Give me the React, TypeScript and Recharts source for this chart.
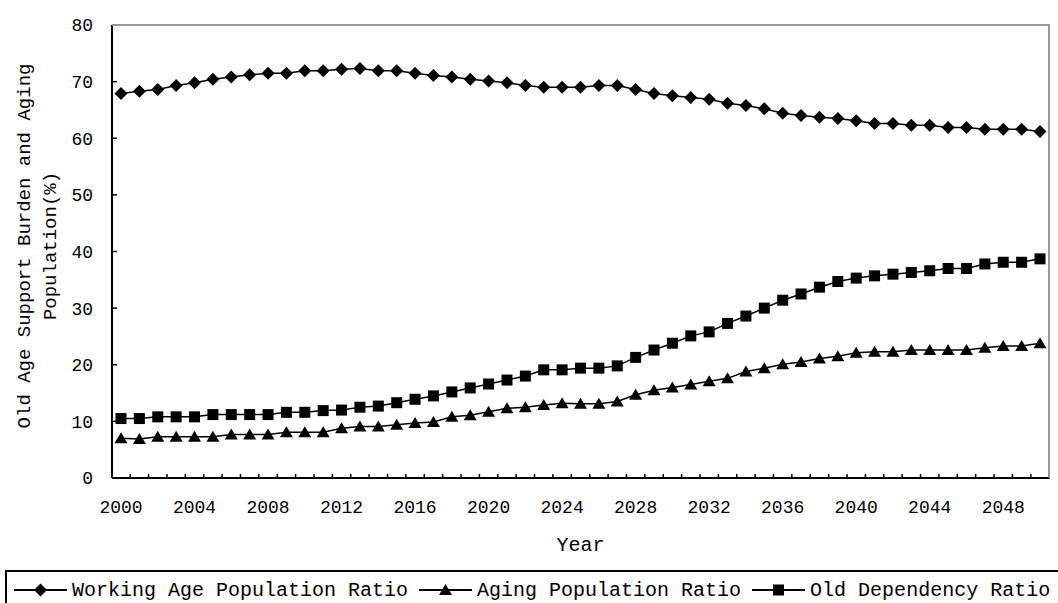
import { Legend, Line, LineChart, ReferenceLine, XAxis, YAxis } from "recharts";

const FONT = '"Liberation Mono", "DejaVu Sans Mono", monospace';

const YEARS = [
  "2000", "2001", "2002", "2003", "2004", "2005", "2006", "2007", "2008", "2009",
  "2010", "2011", "2012", "2013", "2014", "2015", "2016", "2017", "2018", "2019",
  "2020", "2021", "2022", "2023", "2024", "2025", "2026", "2027", "2028", "2029",
  "2030", "2031", "2032", "2033", "2034", "2035", "2036", "2037", "2038", "2039",
  "2040", "2041", "2042", "2043", "2044", "2045", "2046", "2047", "2048", "2049",
  "2050",
];

const WORKING = [
  67.9, 68.3, 68.6, 69.3, 69.8, 70.4, 70.8, 71.2, 71.5, 71.5,
  71.9, 71.9, 72.2, 72.3, 71.9, 71.9, 71.5, 71.1, 70.8, 70.4,
  70.1, 69.8, 69.3, 69.0, 69.0, 69.0, 69.3, 69.3, 68.6, 67.9,
  67.5, 67.2, 66.9, 66.2, 65.8, 65.2, 64.4, 64.0, 63.7, 63.5,
  63.1, 62.6, 62.6, 62.3, 62.3, 61.9, 61.9, 61.6, 61.6, 61.6,
  61.2,
];

const AGING = [
  7.0, 6.9, 7.3, 7.3, 7.3, 7.3, 7.7, 7.7, 7.7, 8.1,
  8.1, 8.1, 8.8, 9.1, 9.1, 9.4, 9.7, 9.9, 10.8, 11.1,
  11.7, 12.3, 12.5, 12.9, 13.2, 13.1, 13.1, 13.5, 14.7, 15.5,
  16.0, 16.5, 17.1, 17.6, 18.8, 19.4, 20.1, 20.5, 21.1, 21.5,
  22.1, 22.3, 22.3, 22.6, 22.6, 22.6, 22.6, 23.0, 23.3, 23.3,
  23.8,
];

const OLD_DEP = [
  10.5, 10.5, 10.8, 10.8, 10.8, 11.2, 11.2, 11.2, 11.2, 11.6,
  11.6, 11.9, 12.0, 12.5, 12.7, 13.3, 13.9, 14.5, 15.2, 15.9,
  16.6, 17.3, 18.0, 19.1, 19.1, 19.4, 19.4, 19.8, 21.3, 22.6,
  23.8, 25.1, 25.8, 27.3, 28.6, 30.0, 31.4, 32.5, 33.7, 34.7,
  35.3, 35.7, 36.0, 36.3, 36.6, 37.0, 37.0, 37.8, 38.1, 38.1,
  38.7,
];

const Y_TICKS = [0, 10, 20, 30, 40, 50, 60, 70, 80];

const SERIES = [
  { key: "working", name: "Working Age Population Ratio", shape: "diamond" },
  { key: "aging", name: "Aging Population Ratio", shape: "triangle" },
  { key: "oldDep", name: "Old Dependency Ratio", shape: "square" },
];

const data = YEARS.map((year, i) => ({
  year,
  working: WORKING[i],
  aging: AGING[i],
  oldDep: OLD_DEP[i],
}));

// plot box: x 112..1049, y 25..478
const PLOT_W = 937;
const STEP = PLOT_W / YEARS.length;

function Marker({ shape, cx, cy }: { shape: string; cx: number; cy: number }) {
  if (shape === "diamond") {
    return (
      <path
        d={`M${cx},${cy - 6.5}L${cx + 6.5},${cy}L${cx},${cy + 6.5}L${cx - 6.5},${cy}Z`}
        fill="#000"
      />
    );
  }
  if (shape === "triangle") {
    return (
      <path
        d={`M${cx},${cy - 6}L${cx + 6.5},${cy + 5}L${cx - 6.5},${cy + 5}Z`}
        fill="#000"
      />
    );
  }
  return <rect x={cx - 5.5} y={cy - 5.5} width={11} height={11} fill="#000" />;
}

// tick marks sit between categories, labels every 4 years
function YearTick(props: any) {
  const { x, y, payload, index } = props;
  const bx = x - STEP / 2;
  return (
    <g>
      <line x1={bx} x2={bx} y1={y} y2={y - 4} stroke="#000" strokeWidth={1.5} />
      {index % 4 === 0 && (
        <text
          x={x}
          y={y + 30}
          textAnchor="middle"
          dominantBaseline="central"
          fontFamily={FONT}
          fontSize={18}
          fill="#000"
        >
          {payload.value}
        </text>
      )}
    </g>
  );
}

function YLabel() {
  return (
    <g fontFamily={FONT} fontSize={19} fill="#000">
      <text
        x={25}
        y={246}
        textAnchor="middle"
        dominantBaseline="central"
        transform="rotate(-90 25 246)"
      >
        Old Age Support Burden and Aging
      </text>
      <text
        x={51}
        y={246}
        textAnchor="middle"
        dominantBaseline="central"
        transform="rotate(-90 51 246)"
      >
        Population(%)
      </text>
    </g>
  );
}

function XLabel(props: any) {
  const vb = props.viewBox || {};
  return (
    <text
      x={vb.x + vb.width / 2}
      y={545}
      textAnchor="middle"
      dominantBaseline="central"
      fontFamily={FONT}
      fontSize={20}
      fill="#000"
    >
      Year
    </text>
  );
}

function LegendBox() {
  return (
    <div
      style={{
        border: "2px solid #000",
        borderRight: "none",
        height: 40,
        boxSizing: "border-box",
        display: "flex",
        alignItems: "center",
        paddingLeft: 7,
        fontFamily: FONT,
        fontSize: 20,
        whiteSpace: "nowrap",
        color: "#000",
        background: "#fff",
      }}
    >
      {SERIES.map((s) => (
        <span
          key={s.key}
          style={{ display: "inline-flex", alignItems: "center", marginRight: 11 }}
        >
          <svg width={53} height={16}>
            <line x1={0} x2={53} y1={8} y2={8} stroke="#000" strokeWidth={2} />
            <Marker shape={s.shape} cx={26.5} cy={8} />
          </svg>
          <span style={{ marginLeft: 5 }}>{s.name}</span>
        </span>
      ))}
    </div>
  );
}

export default function App() {
  return (
    <div
      style={{
        position: "absolute",
        left: 0,
        top: 0,
        width: 1058,
        height: 603,
        overflow: "hidden",
        background: "#fff",
      }}
    >
      <LineChart
        width={1058}
        height={603}
        data={data}
        margin={{ top: 25, right: 9, left: 0, bottom: 0 }}
      >
        <XAxis
          dataKey="year"
          height={125}
          interval={0}
          padding={{ left: 9, right: 9 }}
          tickLine={false}
          tickSize={0}
          tickMargin={0}
          tick={<YearTick />}
          axisLine={{ stroke: "#000", strokeWidth: 2 }}
          label={<XLabel />}
        />
        <YAxis
          width={112}
          domain={[0, 80]}
          ticks={Y_TICKS}
          interval={0}
          tickSize={-5}
          tickMargin={24}
          tick={{ fontSize: 18, fontFamily: FONT, fill: "#000" }}
          tickLine={{ stroke: "#000", strokeWidth: 1.5 }}
          axisLine={{ stroke: "#000", strokeWidth: 2 }}
          label={<YLabel />}
        />
        <ReferenceLine y={80} stroke="#999" strokeWidth={2} />
        <ReferenceLine y={0} stroke="#000" strokeWidth={2} />
        <Legend
          layout="horizontal"
          verticalAlign="middle"
          align="center"
          wrapperStyle={{ left: 5, top: 570, width: 1053, height: 40 }}
          content={() => <LegendBox />}
        />
        {SERIES.map((s) => (
          <Line
            key={s.key}
            dataKey={s.key}
            name={s.name}
            type="linear"
            stroke="#000"
            strokeWidth={1.5}
            isAnimationActive={false}
            dot={(p: any) => (
              <Marker key={`${s.key}-${p.index}`} shape={s.shape} cx={p.cx} cy={p.cy} />
            )}
            activeDot={false}
          />
        ))}
      </LineChart>
      {/* plot frame: grey top/right edges, black bottom axis */}
      <div
        style={{
          position: "absolute",
          left: 112,
          top: 24,
          width: 938,
          height: 455,
          boxSizing: "border-box",
          borderTop: "2px solid #999",
          borderRight: "2px solid #999",
          borderBottom: "2px solid #000",
          pointerEvents: "none",
        }}
      />
    </div>
  );
}
